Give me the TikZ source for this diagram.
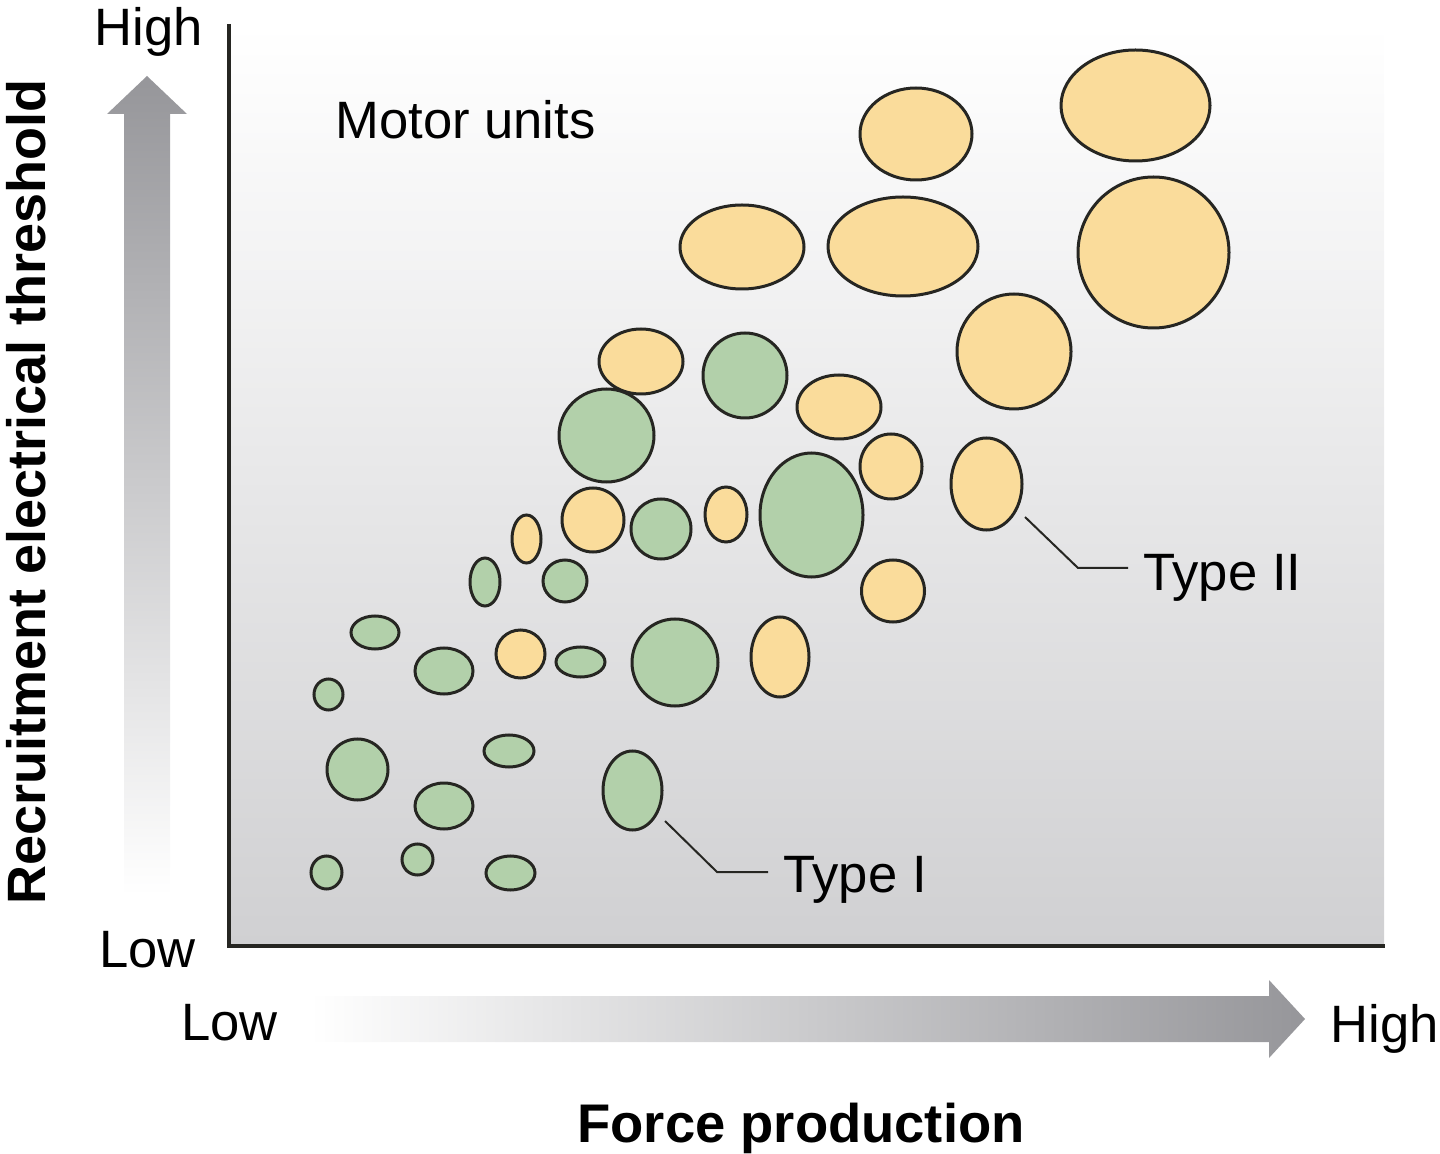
\documentclass[tikz,border=0pt]{standalone}
\usepackage{fontspec}
\setmainfont{Liberation Sans}
\usetikzlibrary{shapes.geometric}
\definecolor{ylw}{RGB}{250,220,155}
\definecolor{grn}{RGB}{178,208,170}
\definecolor{outl}{RGB}{38,38,34}
\definecolor{bgbot}{RGB}{208,208,210}
\definecolor{arr}{RGB}{150,150,154}
\definecolor{arrmid}{RGB}{190,190,192}
\begin{document}
\begin{tikzpicture}[x=0.5pt,y=-0.5pt,
  unit/.style={ellipse, draw=outl, line width=1.5pt, inner sep=0pt},
  t1/.style={unit, fill=grn},
  t2/.style={unit, fill=ylw},
  lbl/.style={anchor=base west, inner sep=0pt, font=\fontsize{26.3}{31}\selectfont},
  leader/.style={draw=outl, line width=1pt}]
\useasboundingbox (0,0) rectangle (1440,1154);
% plot background
\shade[top color=white, bottom color=bgbot] (230,25) rectangle (1384,945);
% axes
\draw[outl, line width=1.6pt] (229,24) -- (229,946) -- (1385,946);
% y arrow
\shade[top color=arr, middle color=arrmid, bottom color=white]
  (124,895) -- (124,114) -- (107,114) -- (147,76) -- (187,114) -- (170,114) -- (170,895) -- cycle;
% x arrow
\shade[left color=white, middle color=arrmid, right color=arr]
  (310,996) -- (1269,996) -- (1269,980) -- (1305,1019) -- (1269,1058) -- (1269,1042) -- (310,1042) -- cycle;
% texts
\node[lbl] (yhigh) at (94,46) {High};
\node[lbl] (ylow) at (99,967) {Low};
\node[lbl] (xlow) at (181,1040) {Low};
\node[lbl] (xhigh) at (1330,1042) {High};
\node[lbl] (title) at (335,139) {Motor units};
\node[lbl] (lab2) at (1143,590) {Type II};
\node[lbl] (lab1) at (783,892) {Type I};
\node[anchor=base west, inner sep=0pt, font=\fontsize{27.2}{32}\selectfont\bfseries] (xlab) at (577,1142) {Force production};
\node[anchor=base west, inner sep=0pt, rotate=90, font=\fontsize{27}{32}\selectfont\bfseries] (ylab) at (46,905) {Recruitment electrical threshold};
% type II units
\node[t2, minimum width=74.5pt, minimum height=55.5pt] (y1) at (1135.5,105.5) {};
\node[t2, minimum width=56pt, minimum height=46pt] (y2) at (916,134) {};
\node[t2, minimum width=75.5pt, minimum height=75.5pt] (y3) at (1153.5,252.5) {};
\node[t2, minimum width=75pt, minimum height=49.5pt] (y4) at (903,246.5) {};
\node[t2, minimum width=62pt, minimum height=42pt] (y5) at (742,247) {};
\node[t2, minimum width=57pt, minimum height=57.5pt] (y6) at (1014,351.5) {};
\node[t2, minimum width=42pt, minimum height=32pt] (y7) at (839,407) {};
\node[t2, minimum width=31pt, minimum height=32.5pt] (y8) at (891,466.5) {};
\node[t2, minimum width=35.5pt, minimum height=46pt] (y9) at (986.5,484) {};
\node[t2, minimum width=31.5pt, minimum height=31pt] (y10) at (893,591) {};
\node[t2, minimum width=29pt, minimum height=40pt] (y11) at (780,657) {};
\node[t2, minimum width=42pt, minimum height=32.5pt] (y12) at (641,361.5) {};
\node[t2, minimum width=31pt, minimum height=32pt] (y13) at (593,520) {};
\node[t2, minimum width=14.5pt, minimum height=24pt] (y14) at (526.5,539) {};
\node[t2, minimum width=21pt, minimum height=27.5pt] (y15) at (726,514.5) {};
\node[t2, minimum width=24.5pt, minimum height=24pt] (y16) at (520.5,654) {};
% type I units
\node[t1, minimum width=42pt, minimum height=42.5pt] (g1) at (745,375.5) {};
\node[t1, minimum width=47.5pt, minimum height=46.5pt] (g2) at (606.5,435.5) {};
\node[t1, minimum width=30pt, minimum height=30pt] (g3) at (661,529) {};
\node[t1, minimum width=51.5pt, minimum height=62pt] (g4) at (811.5,515) {};
\node[t1, minimum width=15pt, minimum height=24pt] (g5) at (485,582) {};
\node[t1, minimum width=22pt, minimum height=21pt] (g6) at (565,581) {};
\node[t1, minimum width=24pt, minimum height=16.5pt] (g7) at (375,632.5) {};
\node[t1, minimum width=29pt, minimum height=23pt] (g8) at (444,671) {};
\node[t1, minimum width=24.5pt, minimum height=15pt] (g9) at (580.5,662) {};
\node[t1, minimum width=43pt, minimum height=43.5pt] (g10) at (675,662.5) {};
\node[t1, minimum width=14.5pt, minimum height=15.5pt] (g11) at (328.5,694.5) {};
\node[t1, minimum width=30.5pt, minimum height=30.5pt] (g12) at (357.5,769.5) {};
\node[t1, minimum width=25pt, minimum height=16pt] (g13) at (509,751) {};
\node[t1, minimum width=29pt, minimum height=23pt] (g14) at (444,806) {};
\node[t1, minimum width=29.5pt, minimum height=39.5pt] (g15) at (632.5,790.5) {};
\node[t1, minimum width=15.5pt, minimum height=16.5pt] (g16) at (326.5,872.5) {};
\node[t1, minimum width=15.5pt, minimum height=15.5pt] (g17) at (417.5,859.5) {};
\node[t1, minimum width=24.5pt, minimum height=17pt] (g18) at (510.5,873) {};
% leaders
\coordinate (l2s) at (1025,517);
\coordinate (l2m) at (1078,568);
\coordinate (l2e) at (1128,568);
\draw[leader] (l2s) -- (l2m) -- (l2e);
\coordinate (l1s) at (665,821);
\coordinate (l1m) at (717,872);
\coordinate (l1e) at (768,872);
\draw[leader] (l1s) -- (l1m) -- (l1e);
\end{tikzpicture}
\end{document}
